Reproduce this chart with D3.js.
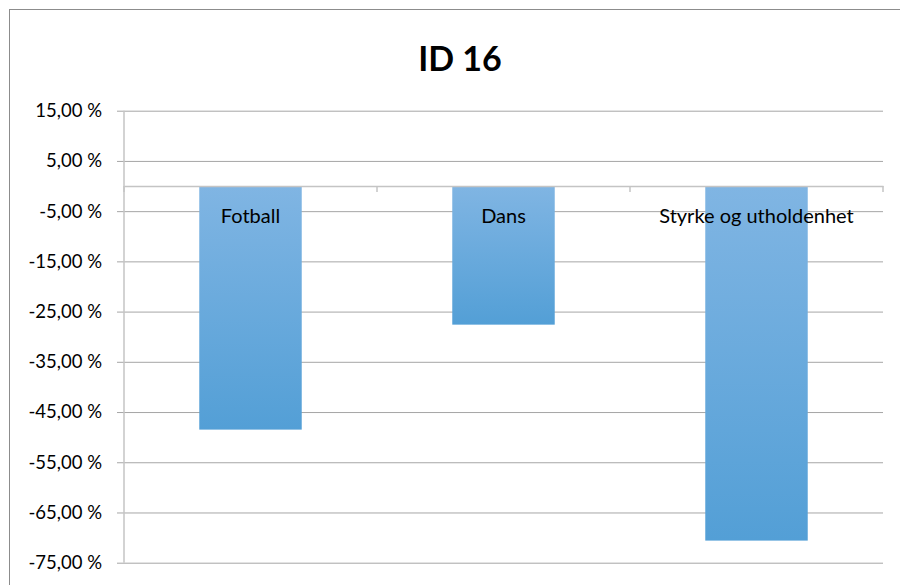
<!DOCTYPE html>
<html>
<head>
<meta charset="utf-8">
<script src="https://cdn.jsdelivr.net/npm/d3@7"></script>
<style>
  html, body { margin: 0; padding: 0; background: #ffffff; }
  svg { display: block; font-family: Lato, "Open Sans", sans-serif; }
</style>
</head>
<body>
<svg id="chart" width="900" height="585"></svg>
<script>
// Activity categories and their change in percent
const categories = ["Fotball", "Dans", "Styrke og utholdenhet"];
const values = [-48.5, -27.6, -70.6];
const yTicks = [15, 5, -5, -15, -25, -35, -45, -55, -65, -75];
const title = "ID 16";

const svg = d3.select("#chart");
const plot = { left: 124, right: 883, top: 110.7, bottom: 562.7 };

// Outer chart frame
svg.append("rect")
  .attr("x", 9.5).attr("y", 9.5)
  .attr("width", 920).attr("height", 620)
  .attr("fill", "#ffffff")
  .attr("stroke", "#8c8c8c").attr("stroke-width", 1);

const y = d3.scaleLinear().domain([-75, 15]).range([plot.bottom, plot.top]);
const x = d3.scaleBand().domain(categories)
  .range([plot.left, plot.right])
  .paddingInner(0.595).paddingOuter(0.2975);

// Horizontal gridlines with tick labels
const yAxis = d3.axisLeft(y)
  .tickValues(yTicks)
  .tickSize(-(plot.right - (plot.left - 7)))
  .tickPadding(15)
  .tickFormat(d => d.toFixed(2).replace(".", ",") + " %");

const gy = svg.append("g")
  .attr("transform", `translate(${plot.left - 7},0)`)
  .call(yAxis);
gy.select(".domain").remove();
gy.selectAll(".tick line").attr("stroke", "#a6a6a6").attr("stroke-width", 1);
gy.selectAll(".tick text")
  .attr("fill", "#000000")
  .style("font-size", "18.5px")
  .style("font-family", "Lato, 'Open Sans', sans-serif");

// Vertical value axis line
svg.append("line")
  .attr("x1", plot.left).attr("x2", plot.left)
  .attr("y1", plot.top).attr("y2", plot.bottom)
  .attr("stroke", "#c4c4c4").attr("stroke-width", 1.5);

// Bar gradient
const defs = svg.append("defs");
const grad = defs.append("linearGradient")
  .attr("id", "barFill")
  .attr("x1", 0).attr("y1", 0).attr("x2", 0).attr("y2", 1);
grad.append("stop").attr("offset", "0%").attr("stop-color", "#80b5e3");
grad.append("stop").attr("offset", "100%").attr("stop-color", "#539fd6");

const data = categories.map((c, i) => ({ cat: c, val: values[i] }));

svg.append("g").selectAll("rect")
  .data(data)
  .join("rect")
  .attr("x", d => x(d.cat))
  .attr("width", x.bandwidth())
  .attr("y", d => y(Math.max(0, d.val)))
  .attr("height", d => Math.abs(y(d.val) - y(0)))
  .attr("fill", "url(#barFill)");

// Category axis at zero with tick marks between categories
const xAxis = d3.axisBottom(x).tickSize(0).tickFormat("");
const gx = svg.append("g")
  .attr("transform", `translate(0,${y(0)})`)
  .call(xAxis);
gx.select(".domain").attr("stroke", "#c4c4c4").attr("stroke-width", 1.5);
gx.selectAll(".tick").remove();

const boundaries = d3.range(categories.length + 1).map(i => plot.left + (plot.right - plot.left) * i / categories.length);
svg.append("g").selectAll("line")
  .data(boundaries)
  .join("line")
  .attr("x1", d => d).attr("x2", d => d)
  .attr("y1", y(0)).attr("y2", y(0) + 6)
  .attr("stroke", "#c4c4c4").attr("stroke-width", 1.5);

// Category names near the zero line
svg.append("g").selectAll("text")
  .data(data)
  .join("text")
  .attr("x", d => x(d.cat) + x.bandwidth() / 2)
  .attr("y", y(0) + 37)
  .attr("text-anchor", "middle")
  .style("font-size", "20px")
  .attr("fill", "#000000")
  .text(d => d.cat);

// Title
svg.append("text")
  .attr("x", 460).attr("y", 71)
  .attr("text-anchor", "middle")
  .style("font-size", "34px")
  .style("font-weight", "bold")
  .attr("fill", "#000000")
  .text(title);
</script>
</body>
</html>
